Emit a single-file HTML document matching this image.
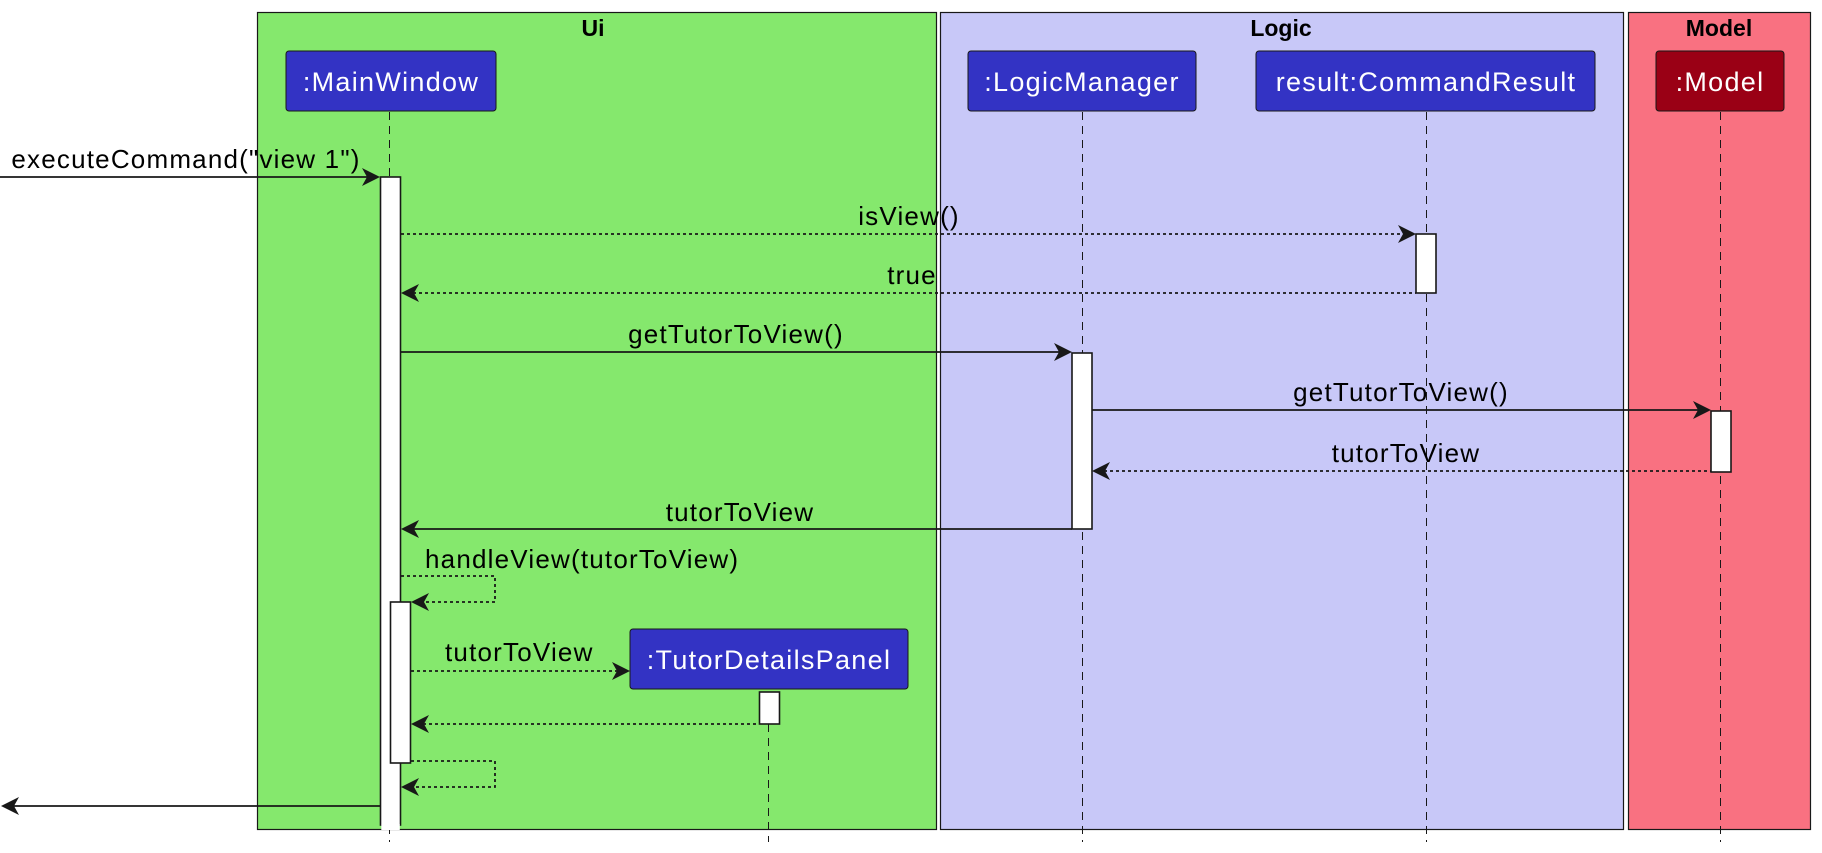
<!DOCTYPE html>
<html><head><meta charset="utf-8"><style>
html,body{margin:0;padding:0;background:#fff;}
svg{display:block;}
text{font-family:"Liberation Sans",sans-serif;}
</style></head><body>
<svg width="1822" height="853" viewBox="0 0 1822 853" xmlns="http://www.w3.org/2000/svg">
<rect x="257.5" y="12.5" width="679" height="817" fill="#85E86D" stroke="#181818" stroke-width="1.2"/>
<rect x="940.5" y="12.5" width="683" height="817" fill="#C8C8F8" stroke="#181818" stroke-width="1.2"/>
<rect x="1628.5" y="12.5" width="182" height="817" fill="#F97181" stroke="#181818" stroke-width="1.2"/>
<text x="593" y="36" font-size="23" font-weight="bold" text-anchor="middle">Ui</text>
<text x="1281" y="36" font-size="23" font-weight="bold" text-anchor="middle">Logic</text>
<text x="1719" y="36" font-size="23" font-weight="bold" text-anchor="middle">Model</text>

<g stroke="#181818" stroke-width="1" stroke-dasharray="8,6" fill="none">
<line x1="389.5" y1="112" x2="389.5" y2="842"/>
<line x1="1082.5" y1="112" x2="1082.5" y2="842"/>
<line x1="1426.5" y1="112" x2="1426.5" y2="842"/>
<line x1="1720.5" y1="112" x2="1720.5" y2="842"/>
<line x1="768.5" y1="724" x2="768.5" y2="842"/>
</g>

<g stroke="#181818" stroke-width="1">
<rect x="286" y="51" width="210" height="60" rx="3" fill="#3333C4"/>
<rect x="968" y="51" width="228" height="60" rx="3" fill="#3333C4"/>
<rect x="1256" y="51" width="339" height="60" rx="3" fill="#3333C4"/>
<rect x="1656" y="51" width="128" height="60" rx="3" fill="#9A0015"/>
<rect x="630" y="629" width="278" height="60" rx="3" fill="#3333C4"/>
</g>
<g fill="#fff" font-size="27" letter-spacing="1.3" text-anchor="middle">
<text x="391" y="91">:MainWindow</text>
<text x="1082" y="91">:LogicManager</text>
<text x="1426" y="91">result:CommandResult</text>
<text x="1720" y="91">:Model</text>
<text x="769" y="669">:TutorDetailsPanel</text>
</g>

<g fill="#fff" stroke="#181818" stroke-width="1.6">
<rect x="380.5" y="177" width="20" height="648"/>
<rect x="1416" y="234" width="20" height="59"/>
<rect x="1072" y="353" width="20" height="176"/>
<rect x="1711" y="411" width="20" height="61"/>
<rect x="390.5" y="602" width="20" height="161"/>
<rect x="759.5" y="692" width="20" height="32"/>
</g>
<rect x="381.3" y="824" width="18.5" height="6" fill="#fff"/>

<g stroke="#181818" stroke-width="1.8" fill="none">
<line x1="0" y1="177" x2="374" y2="177"/>
<line x1="401" y1="234" x2="1410" y2="234" stroke-dasharray="3,3"/>
<line x1="407" y1="293" x2="1416" y2="293" stroke-dasharray="3,3"/>
<line x1="401" y1="352" x2="1066" y2="352"/>
<line x1="1092" y1="410" x2="1705" y2="410"/>
<line x1="1098" y1="471" x2="1711" y2="471" stroke-dasharray="3,3"/>
<line x1="407" y1="529" x2="1072" y2="529"/>
<polyline points="401,576 495,576 495,602 417,602" stroke-dasharray="3,3"/>
<line x1="411" y1="671" x2="624" y2="671" stroke-dasharray="3,3"/>
<line x1="417" y1="724" x2="759" y2="724" stroke-dasharray="3,3"/>
<polyline points="411,761 495,761 495,787 407,787" stroke-dasharray="3,3"/>
<line x1="6" y1="806" x2="380" y2="806"/>
</g>
<g fill="#181818">
<polygon points="380,177 362,168 367,177 362,186"/>
<polygon points="1416,234 1398,225 1403,234 1398,243"/>
<polygon points="401,293 419,284 414,293 419,302"/>
<polygon points="1072,352 1054,343 1059,352 1054,361"/>
<polygon points="1711,410 1693,401 1698,410 1693,419"/>
<polygon points="1092,471 1110,462 1105,471 1110,480"/>
<polygon points="401,529 419,520 414,529 419,538"/>
<polygon points="411,602 429,593 424,602 429,611"/>
<polygon points="630,671 612,662 617,671 612,680"/>
<polygon points="411,724 429,715 424,724 429,733"/>
<polygon points="401,787 419,778 414,787 419,796"/>
<polygon points="1,806 19,797 14,806 19,815"/>
</g>

<g font-size="26" letter-spacing="1.2" fill="#000">
<text x="186" y="168" text-anchor="middle">executeCommand("view 1")</text>
<text x="909" y="225" text-anchor="middle">isView()</text>
<text x="912" y="284" text-anchor="middle">true</text>
<text x="736" y="343" text-anchor="middle">getTutorToView()</text>
<text x="1401" y="401" text-anchor="middle">getTutorToView()</text>
<text x="1406" y="462" text-anchor="middle">tutorToView</text>
<text x="740" y="521" text-anchor="middle">tutorToView</text>
<text x="425" y="568">handleView(tutorToView)</text>
<text x="445" y="661">tutorToView</text>
</g>
</svg>
</body></html>
